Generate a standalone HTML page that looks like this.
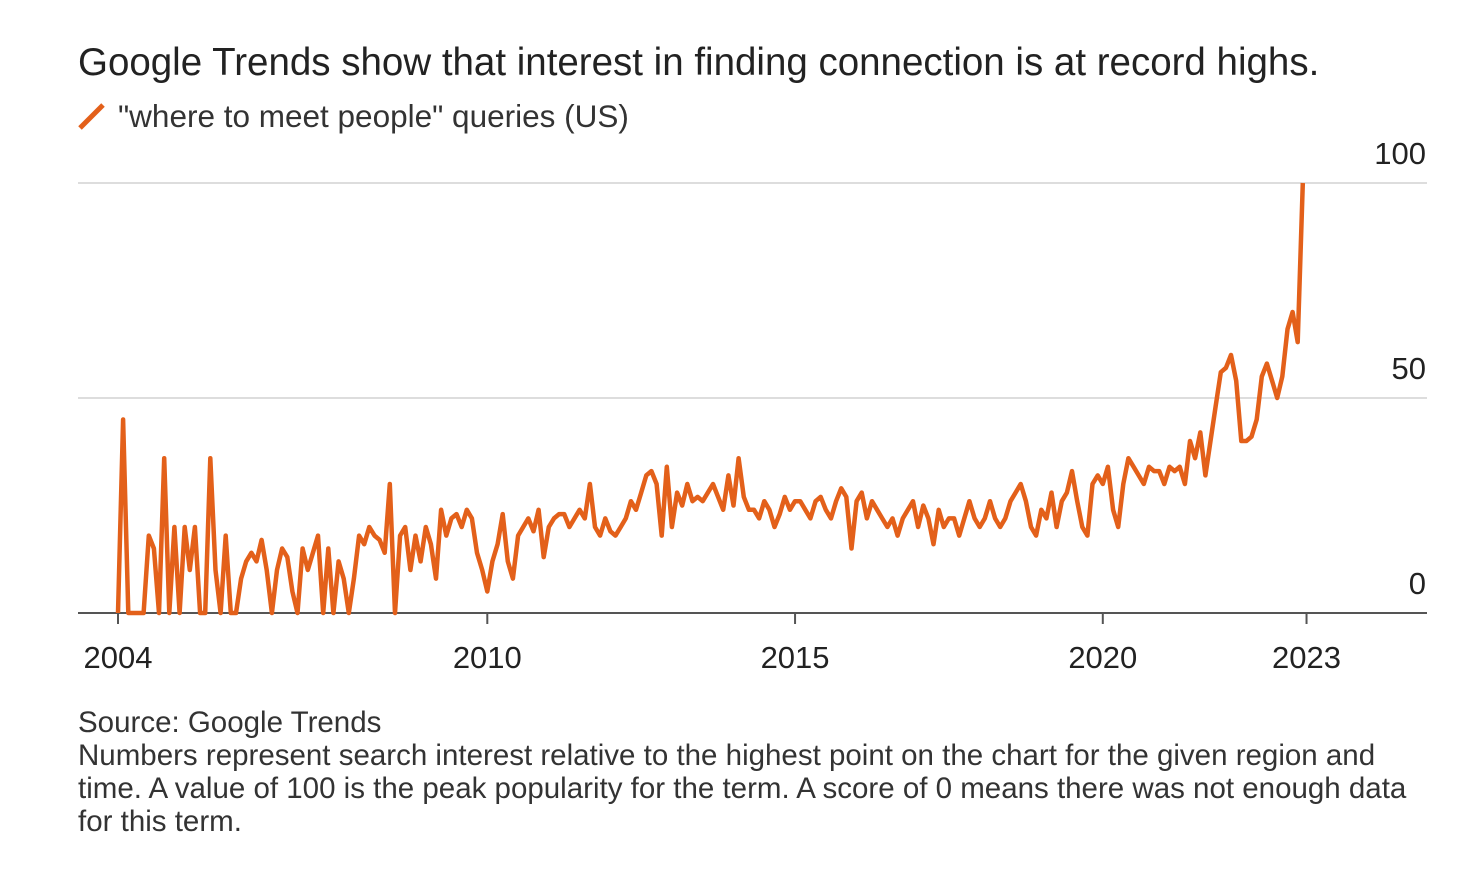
<!DOCTYPE html>
<html><head><meta charset="utf-8"><style>
body{margin:0;background:#fff;width:1471px;height:872px;overflow:hidden;font-family:"Liberation Sans",sans-serif;color:#222}
svg{position:absolute;left:0;top:0}
</style></head><body>
<svg width="1471" height="872">
<text x="78" y="75" font-size="38.5" fill="#222">Google Trends show that interest in finding connection is at record highs.</text>
<line x1="80" y1="128" x2="103" y2="105" stroke="#e3601a" stroke-width="5"/>
<text x="118" y="127" font-size="31.5" fill="#333">"where to meet people" queries (US)</text>
<g id="grid"></g><g id="xaxis"></g><g id="series"></g>
<text x="78" y="732" font-size="29.5" fill="#333">Source: Google Trends</text>
<text x="78" y="765" font-size="29.5" fill="#333">Numbers represent search interest relative to the highest point on the chart for the given region and</text>
<text x="78" y="798" font-size="29.5" fill="#333">time. A value of 100 is the peak popularity for the term. A score of 0 means there was not enough data</text>
<text x="78" y="831" font-size="29.5" fill="#333">for this term.</text>
</svg>
<script>
const yTicks=[0,50,100];
const xTicks=[2004,2010,2015,2020,2023];
const xTickPos=[2004,2010,2015,2020,2023.31];
const startYear=2004;
const values=[
0,45,0,0,0,0,18,15,0,36,0,20,
0,20,10,20,0,0,36,10,0,18,0,0,
8,12,14,12,17,10,0,10,15,13,5,0,
15,10,14,18,0,15,0,12,8,0,8,18,
16,20,18,17,14,30,0,18,20,10,18,12,
20,16,8,24,18,22,23,20,24,22,14,10,
5,12,16,23,12,8,18,20,22,19,24,13,
20,22,23,23,20,22,24,22,30,20,18,22,
19,18,20,22,26,24,28,32,33,30,18,34,
20,28,25,30,26,27,26,28,30,27,24,32,
25,36,27,24,24,22,26,24,20,23,27,24,
26,26,24,22,26,27,24,22,26,29,27,15,
26,28,22,26,24,22,20,22,18,22,24,26,
20,25,22,16,24,20,22,22,18,22,26,22,
20,22,26,22,20,22,26,28,30,26,20,18,
24,22,28,20,26,28,33,26,20,18,30,32,
30,34,24,20,30,36,34,32,30,34,33,33,
30,34,33,34,30,40,36,42,32,40,48,56,
57,60,54,40,40,41,45,55,58,54,50,55,
66,70,63,100];
const NS="http://www.w3.org/2000/svg";
const xs=y=>118+(y-2004)*61.55;
const ys=v=>613-v*4.3;
const grid=document.getElementById('grid');
yTicks.forEach(t=>{
 const l=document.createElementNS(NS,'line');
 
 
 l.setAttribute('x1',78);l.setAttribute('x2',1427);l.setAttribute('y1',ys(t));l.setAttribute('y2',ys(t));
 l.setAttribute('stroke',t===0?'#555':'#ddd');l.setAttribute('stroke-width',2);
 grid.appendChild(l);
 const tx=document.createElementNS(NS,'text');
 
 
 tx.setAttribute('x',1426);tx.setAttribute('y',ys(t)-19);tx.setAttribute('text-anchor','end');
 tx.setAttribute('font-size','31');tx.setAttribute('fill','#222');tx.textContent=t;
 grid.appendChild(tx);
});
const xa=document.getElementById('xaxis');
xTicks.forEach((t,i)=>{
 const x=xs(xTickPos[i]);
 const l=document.createElementNS(NS,'line');
 
 
 l.setAttribute('x1',x);l.setAttribute('x2',x);l.setAttribute('y1',613);l.setAttribute('y2',624);
 l.setAttribute('stroke','#555');l.setAttribute('stroke-width',2);xa.appendChild(l);
 const tx=document.createElementNS(NS,'text');
 
 
 tx.setAttribute('x',x);tx.setAttribute('y',668);tx.setAttribute('text-anchor','middle');
 tx.setAttribute('font-size','31');tx.setAttribute('fill','#222');tx.textContent=t;
 xa.appendChild(tx);
});
const pts=values.map((v,i)=>xs(startYear+i/12).toFixed(1)+','+ys(v).toFixed(1)).join(' ');
const pl=document.createElementNS(NS,'polyline');


pl.setAttribute('points',pts);pl.setAttribute('fill','none');pl.setAttribute('stroke','#e3601a');
pl.setAttribute('stroke-width','4.5');pl.setAttribute('stroke-linejoin','round');
document.getElementById('series').appendChild(pl);
</script>
</body></html>
